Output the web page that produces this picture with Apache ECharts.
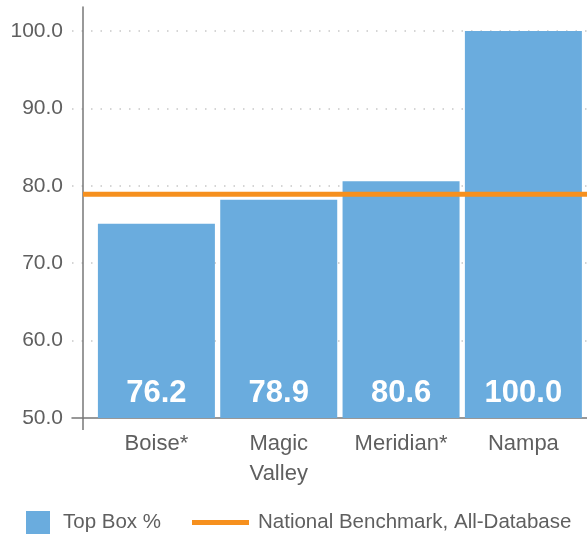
<!DOCTYPE html>
<html>
<head>
<meta charset="utf-8">
<script src="https://cdn.jsdelivr.net/npm/echarts@6/dist/echarts.min.js"></script>
<style>
  html, body { margin: 0; padding: 0; background: #fff; }
  #chart { width: 587px; height: 536px; }
</style>
</head>
<body>
<div id="chart"></div>
<script>
const categories = ["Boise*", "Magic\nValley", "Meridian*", "Nampa"];
// bar heights as drawn in the picture
const topBox = [75.1, 78.2, 80.6, 100.0];
// value labels as printed on the bars
const topBoxLabels = ["76.2", "78.9", "80.6", "100.0"];
const benchmark = 78.9;
const yTicks = [50, 60, 70, 80, 90, 100];

const FONT = "'Liberation Sans', Arial, Helvetica, sans-serif";
const BLUE = "#6AACDE";
const ORANGE = "#F6901E";
const GREY = "#5f5f5f";

// x extent on a value axis so the bands sit like the original
const xMin = -0.69, xMax = 3.52, yAxisAt = -0.6;

const chart = echarts.init(document.getElementById("chart"), null, { renderer: "canvas" });

chart.setOption({
	animation: false,
	textStyle: { fontFamily: FONT },
	grid: { left: 72, right: 0, top: 7, bottom: 118 },
	xAxis: {
		type: "value",
		min: xMin,
		max: xMax,
		splitLine: { show: false },
		axisLine: { show: true, onZero: false, lineStyle: { color: "#777", width: 1.5 } },
		axisTick: {
			show: true,
			customValues: [yAxisAt],
			length: 12,
			lineStyle: { color: "#777", width: 1.5 },
		},
		axisLabel: {
			customValues: categories.map((c, i) => i),
			formatter: v => categories[Math.round(v)],
			color: GREY,
			fontSize: 22,
			lineHeight: 30,
			margin: 11,
		},
	},
	yAxis: {
		type: "value",
		min: 50,
		max: 103.1,
		interval: 10,
		offset: -11,
		axisLine: { show: true, onZero: false, lineStyle: { color: "#777", width: 1.5 } },
		axisTick: { show: false },
		axisLabel: {
			formatter: v => (yTicks.includes(v) ? v.toFixed(1) : ""),
			showMaxLabel: false,
			color: GREY,
			fontSize: 21,
			margin: 20,
		},
		splitLine: {
			show: true,
			showMinLine: false,
			showMaxLine: false,
			lineStyle: { color: "#c8c8c8", width: 1.5, type: [1.5, 8] },
		},
	},
	legend: [
		{
			data: [{ name: "Top Box %", icon: "rect" }],
			left: 21,
			top: 506,
			itemWidth: 24,
			itemHeight: 23,
			textStyle: { color: GREY, fontSize: 20.5, padding: [0, 0, 0, 8] },
		},
		{
			data: [{ name: "National Benchmark, All-Database", icon: "rect" }],
			left: 187,
			top: 507,
			itemWidth: 57,
			itemHeight: 5,
			textStyle: { color: GREY, fontSize: 20.5, padding: [0, 0, 0, 4] },
		},
	],
	series: [
		{
			name: "Top Box %",
			type: "bar",
			barWidth: 117,
			itemStyle: { color: BLUE },
			data: topBox.map((v, i) => [i, v]),
			label: {
				show: true,
				position: "insideBottom",
				distance: 9,
				formatter: p => topBoxLabels[p.dataIndex],
				color: "#fff",
				fontWeight: "bold",
				fontSize: 31,
			},
			z: 2,
		},
		{
			name: "National Benchmark, All-Database",
			type: "line",
			symbol: "none",
			itemStyle: { color: ORANGE },
			lineStyle: { color: ORANGE, width: 5 },
			data: [[yAxisAt, benchmark], [xMax, benchmark]],
			z: 3,
		},
	],
});
</script>
</body>
</html>
